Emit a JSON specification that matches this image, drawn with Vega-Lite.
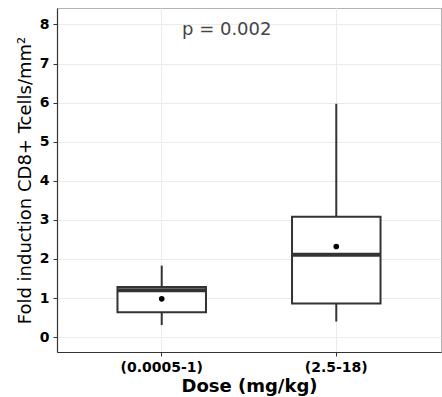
{
  "$schema": "https://vega.github.io/schema/vega-lite/v6.json",
  "width": 384,
  "height": 344,
  "autosize": {"type": "none"},
  "padding": {"left": 57, "top": 8, "right": 1, "bottom": 45},
  "background": "white",
  "config": {
    "font": "DejaVu Sans",
    "view": {"stroke": "#b3b3b3", "strokeWidth": 1}
  },
  "data": {
    "values": [
      {"dose": "(0.0005-1)", "lower": 0.31, "q1": 0.64, "median": 1.2, "q3": 1.28, "upper": 1.83, "mean": 0.98},
      {"dose": "(2.5-18)", "lower": 0.4, "q1": 0.86, "median": 2.11, "q3": 3.08, "upper": 5.97, "mean": 2.32}
    ]
  },
  "encoding": {
    "x": {
      "field": "dose",
      "type": "nominal",
      "sort": null,
      "scale": {"paddingInner": 0, "paddingOuter": 0.1},
      "axis": {
        "title": "Dose (mg/kg)",
        "titleFont": "DejaVu Sans",
        "titleFontSize": 18,
        "titleFontWeight": "bold",
        "titleColor": "black",
        "titlePadding": 3,
        "labelFont": "DejaVu Sans",
        "labelFontSize": 14,
        "labelFontWeight": "bold",
        "labelColor": "black",
        "labelAngle": 0,
        "labelPadding": 4,
        "tickSize": 4,
        "tickColor": "#333333",
        "tickWidth": 1,
        "domainColor": "#333333",
        "domainWidth": 1.2,
        "grid": true,
        "gridColor": "#ebebeb",
        "gridWidth": 1,
        "bandPosition": 0.5
      }
    }
  },
  "layer": [
    {
      "mark": {"type": "rule", "color": "#333333", "strokeWidth": 2},
      "encoding": {
        "y": {
          "field": "lower",
          "type": "quantitative",
          "scale": {"domain": [-0.38, 8.42], "nice": false, "zero": false},
          "axis": {
            "title": "Fold induction CD8+ Tcells/mm²",
            "titleFont": "DejaVu Sans",
            "titleFontSize": 18,
            "titleFontWeight": "normal",
            "titleColor": "black",
            "titlePadding": 5,
            "values": [0, 0.5, 1, 1.5, 2, 2.5, 3, 3.5, 4, 4.5, 5, 5.5, 6, 6.5, 7, 7.5, 8],
            "labelExpr": "datum.value % 1 === 0 ? datum.label : ''",
            "labelFont": "DejaVu Sans",
            "labelFontSize": 14,
            "labelFontWeight": "bold",
            "labelColor": "black",
            "labelPadding": 4,
            "tickSize": 4,
            "tickColor": "#333333",
            "tickWidth": 1,
            "tickOpacity": {"condition": {"test": "datum.value % 1 !== 0", "value": 0}, "value": 1},
            "domainColor": "#333333",
            "domainWidth": 1.2,
            "grid": true,
            "gridColor": {"condition": {"test": "datum.value % 1 !== 0", "value": "#f3f3f3"}, "value": "#ebebeb"},
            "gridWidth": {"condition": {"test": "datum.value % 1 !== 0", "value": 0.8}, "value": 1.2}
          }
        },
        "y2": {"field": "q1"}
      }
    },
    {
      "mark": {"type": "rule", "color": "#333333", "strokeWidth": 2},
      "encoding": {
        "y": {"field": "q3", "type": "quantitative"},
        "y2": {"field": "upper"}
      }
    },
    {
      "mark": {"type": "bar", "width": {"band": 0.507}, "fill": "white", "stroke": "#333333", "strokeWidth": 2},
      "encoding": {
        "y": {"field": "q1", "type": "quantitative"},
        "y2": {"field": "q3"}
      }
    },
    {
      "mark": {"type": "tick", "color": "#333333", "size": 89, "thickness": 4, "opacity": 1},
      "encoding": {
        "y": {"field": "median", "type": "quantitative"}
      }
    },
    {
      "mark": {"type": "point", "filled": true, "color": "black", "size": 32, "opacity": 1},
      "encoding": {
        "y": {"field": "mean", "type": "quantitative"}
      }
    },
    {
      "data": {"values": [{"dose": "(0.0005-1)", "y": 7.85, "label": "p = 0.002"}]},
      "mark": {"type": "text", "font": "DejaVu Sans", "fontSize": 18, "color": "#444444", "dx": 65, "baseline": "middle", "align": "center"},
      "encoding": {
        "y": {"field": "y", "type": "quantitative"},
        "text": {"field": "label"}
      }
    }
  ]
}
